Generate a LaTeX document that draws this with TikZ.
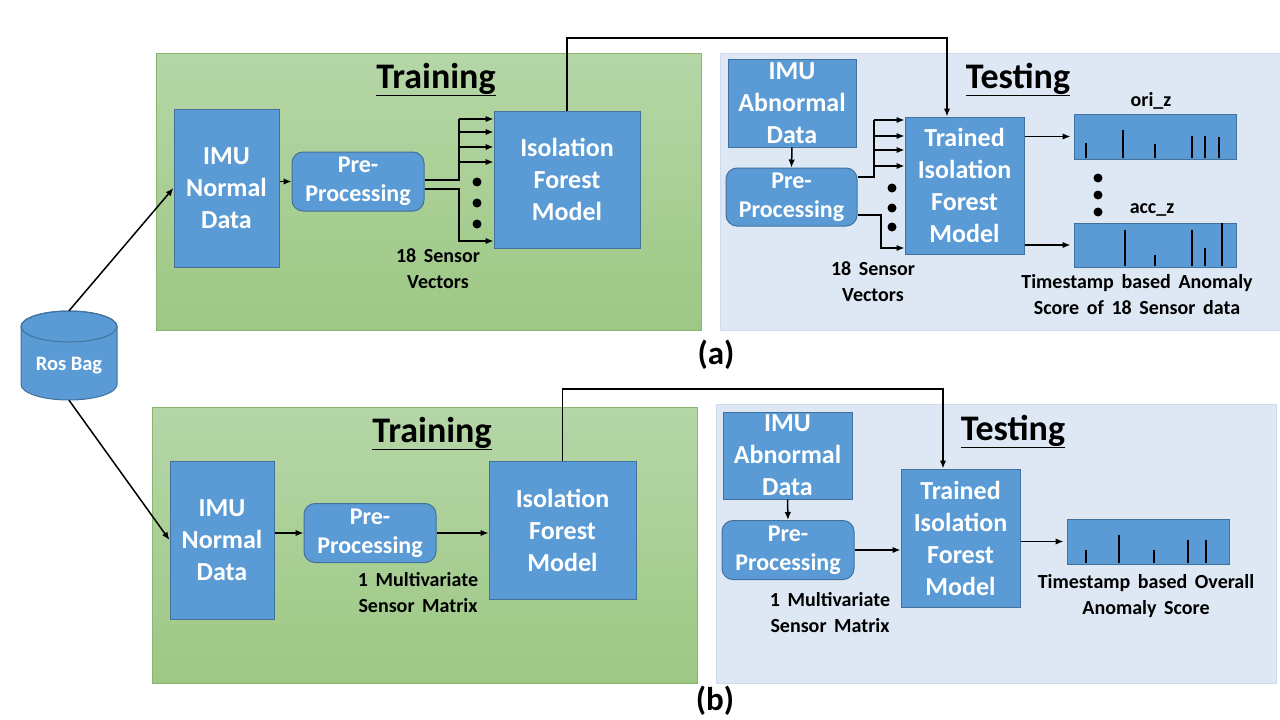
\documentclass[tikz,border=0pt]{standalone}
\usepackage{fontspec}
\setmainfont{Carlito}
\usetikzlibrary{arrows.meta}

\definecolor{boxblue}{HTML}{5B9BD5}
\definecolor{boxline}{HTML}{41719C}
\definecolor{greentop}{HTML}{B5D6A7}
\definecolor{greenbot}{HTML}{9DC884}
\definecolor{greenline}{HTML}{8AB56F}
\definecolor{testfill}{HTML}{DEE8F4}
\definecolor{testline}{HTML}{CCDCEC}

\newcommand\notefont{\fontsize{20}{26}\selectfont\bfseries\spaceskip=0.38em plus 0.1em\relax}

\tikzset{
  blockbox/.style={draw=boxline, fill=boxblue, line width=1pt, text=white, align=center,
    inner sep=0pt, font=\fontsize{26}{32}\selectfont\bfseries},
  prebox/.style={blockbox, rounded corners=11pt, minimum width=132pt, minimum height=59pt,
    font=\fontsize{24}{29}\selectfont\bfseries},
  scorebox/.style={draw=boxline, fill=boxblue, line width=1pt, minimum width=162pt,
    minimum height=45pt, inner sep=0pt},
  notetext/.style={align=center, font=\notefont},
  titletext/.style={anchor=base, font=\fontsize{36}{40}\selectfont\bfseries},
  captext/.style={font=\fontsize{33}{40}\selectfont\bfseries},
  wire/.style={line width=1.5pt},
  flow/.style={wire, arrows={-Latex[length=8pt, width=6.5pt]}},
  tick/.style={line width=2pt}
}

\begin{document}
\begin{tikzpicture}[x=1pt, y=-1pt]
  \useasboundingbox (0,0) rectangle (1280,720);
  \fill [white] (0,0) rectangle (1280,720);
  % panels
  \shadedraw [top color=greentop, bottom color=greenbot, draw=greenline] (156,53) rectangle (701,330);
  \filldraw [fill=testfill, draw=testline] (720,53) rectangle (1280,330);
  \shadedraw [top color=greentop, bottom color=greenbot, draw=greenline] (152,407) rectangle (697,683);
  \filldraw [fill=testfill, draw=testline] (716,404) rectangle (1276,683);

  % ros bag
  \filldraw [fill=boxblue, draw=boxline, line width=1pt] (21,326.5) -- (21,384.5)
    arc [start angle=180, end angle=360, x radius=48pt, y radius=15.5pt] -- (117,326.5)
    arc [start angle=0, end angle=180, x radius=48pt, y radius=15.5pt] -- cycle;
  \draw [boxline, line width=1pt] (69,326.5) ellipse [x radius=48pt, y radius=15.5pt];
  \node [minimum width=96pt, minimum height=89pt, inner sep=0pt] (rosbag) at (69,355.5) {};
  \node [font=\fontsize{20.5}{24}\selectfont\bfseries, text=white] (rostext) at (69,366) {Ros Bag};

  % (a) training
  \node [titletext] (trainTitleA) at (436,88) {\underline{Training}};
  \node [blockbox, minimum width=105pt, minimum height=158pt] (imuA) at (226.5,188) {IMU\\Normal\\Data};
  \node [prebox] (preA) at (358,181.5) {Pre-\\Processing};
  \node [blockbox, minimum width=146pt, minimum height=137pt] (isoA) at (567,179.5) {Isolation\\Forest\\Model};
  \node [notetext] (vecA) at (438,269) {18 Sensor\\Vectors};
  % (a) testing
  \node [titletext] (testTitleA) at (1018,88) {\underline{Testing}};
  \node [blockbox, minimum width=128pt, minimum height=88pt] (abnA) at (792,103) {IMU\\Abnormal\\Data};
  \node [prebox, minimum width=131pt, minimum height=58pt] (preTA) at (791.5,197) {Pre-\\Processing};
  \node [blockbox, minimum width=119pt, minimum height=137pt] (trA) at (964.5,185.5) {Trained\\Isolation\\Forest\\Model};
  \node [notetext] (vecTA) at (873,282) {18 Sensor\\Vectors};
  \node [scorebox] (oriA) at (1155,136.5) {};
  \node [scorebox, minimum height=44pt] (accA) at (1155,245) {};
  \node [notetext] (oriLab) at (1151,101) {ori\_z};
  \node [notetext] (accLab) at (1152,210) {acc\_z};
  \node [notetext] (scoreNoteA) at (1137,295) {Timestamp based Anomaly\\Score of 18 Sensor data};
  \node [captext] (capA) at (716,355) {(a)};

  % (a) connectors
  \draw [flow] (rosbag.north) -- (imuA.west);
  \draw [flow] (imuA.east |- preA.west) -- (preA.west);
  \coordinate (loopA) at (947,38);
  \draw [flow] (isoA.north) |- (loopA) -- (loopA |- trA.north);
  \coordinate (fanA0) at (459,119);
  \coordinate (fanA1) at (459,180);
  \coordinate (fanA2) at (459,189);
  \draw [wire] (preA.east |- fanA1) -- (fanA1) -- (fanA0);
  \foreach \y in {119,132,147,162}
    \draw [flow] (fanA1 |- 0,\y) -- (isoA.west |- 0,\y);
  \draw [flow] (preA.east |- fanA2) -- (fanA2) |- (isoA.west |- 0,241);
  \foreach \y in {182,203,224}
    \fill (477,\y) circle [radius=4.5pt];
  \draw [flow] (abnA.south) -- (preTA.north);
  \coordinate (fanT0) at (874,120);
  \coordinate (fanT1) at (874,177);
  \coordinate (fanT2) at (881,215);
  \draw [wire] (preTA.east |- fanT1) -- (fanT1) -- (fanT0);
  \foreach \y in {120,136,150,166}
    \draw [flow] (fanT1 |- 0,\y) -- (trA.west |- 0,\y);
  \draw [flow] (preTA.east |- fanT2) -- (fanT2) |- (trA.west |- 0,248);
  \foreach \y in {188,208,227}
    \fill (892,\y) circle [radius=4.5pt];
  \draw [flow] (trA.east |- oriA.west) -- ([xshift=-3pt]oriA.west);
  \draw [flow] (trA.east |- accA.west) -- ([xshift=-3pt]accA.west);
  \foreach \y in {178,195,212}
    \fill (1098,\y) circle [radius=4.5pt];
  % score ticks
  \foreach \x/\t in {1086/143,1123/130,1155/144,1192/136,1205/136,1219/137}
    \draw [tick] (\x,158) -- (\x,\t);
  \foreach \x/\t in {1125/230,1155/255,1192/230,1205/248,1222/223}
    \draw [tick] (\x,266) -- (\x,\t);

  % (b) training
  \node [titletext] (trainTitleB) at (432,442) {\underline{Training}};
  \node [blockbox, minimum width=104pt, minimum height=158pt] (imuB) at (222,540) {IMU\\Normal\\Data};
  \node [prebox] (preB) at (370,533) {Pre-\\Processing};
  \node [blockbox, minimum width=147pt, minimum height=138pt] (isoB) at (562.5,530) {Isolation\\Forest\\Model};
  \node [notetext] (matB) at (418,592.5) {1 Multivariate\\Sensor Matrix};
  % (b) testing
  \node [titletext] (testTitleB) at (1013,440) {\underline{Testing}};
  \node [blockbox, minimum width=129pt, minimum height=87pt] (abnB) at (787.5,455.5) {IMU\\Abnormal\\Data};
  \node [prebox] (preTB) at (788,550) {Pre-\\Processing};
  \node [blockbox, minimum width=119pt, minimum height=138pt] (trB) at (960.5,538) {Trained\\Isolation\\Forest\\Model};
  \node [notetext] (matTB) at (830,612.5) {1 Multivariate\\Sensor Matrix};
  \node [scorebox] (allB) at (1148,541.5) {};
  \node [notetext] (scoreNoteB) at (1146,596) {Timestamp based Overall\\Anomaly Score};
  \node [captext] (capB) at (715,701) {(b)};

  % (b) connectors
  \draw [flow] (rosbag.south) -- (imuB.west);
  \draw [flow] (imuB.east |- preB.west) -- (preB.west);
  \draw [flow] (preB.east) -- (isoB.west |- preB.east);
  \coordinate (loopB) at (943,389);
  \draw [flow] (isoB.north) |- (loopB) -- (loopB |- trB.north);
  \draw [flow] (abnB.south) -- (preTB.north);
  \draw [flow] (preTB.east) -- (trB.west |- preTB.east);
  \draw [flow] (trB.east |- allB.west) -- ([xshift=-3pt]allB.west);
  \foreach \x/\t in {1086/550,1119/535,1154/550,1188/540,1206/540}
    \draw [tick] (\x,563) -- (\x,\t);
\end{tikzpicture}
\end{document}
